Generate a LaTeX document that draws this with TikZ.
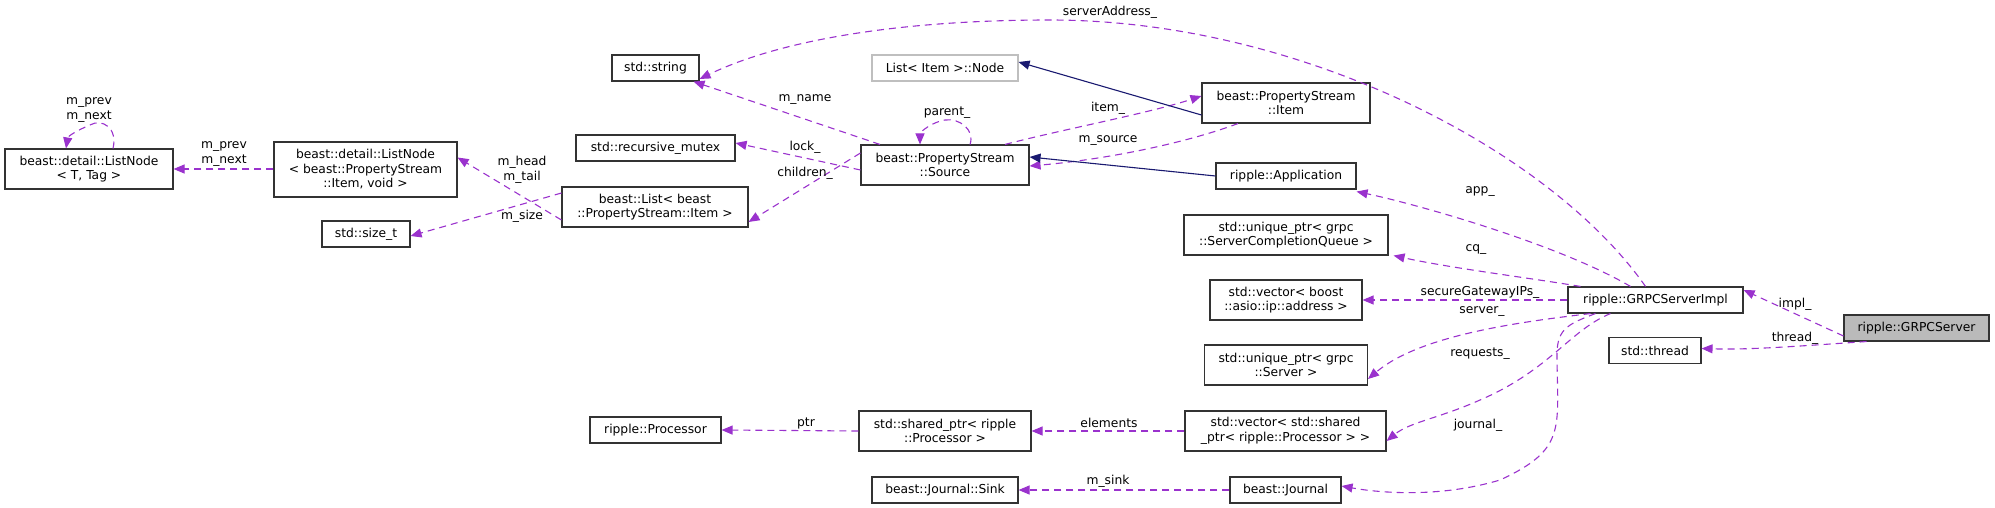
\documentclass[tikz,border=0pt]{standalone}
\usepackage{fontspec}
\setmainfont{DejaVu Sans}
\usetikzlibrary{arrows.meta}
\begin{document}
\begin{tikzpicture}[x=1pt,y=-1pt,
  font=\fontsize{12.3}{14.5}\selectfont,
  box/.style={draw=black!80,line width=1.1pt,inner sep=0pt,align=center,fill=white},
  mem/.style={draw={rgb,255:red,154;green,50;blue,205},line width=1.1pt,dash pattern=on 7pt off 5pt,
     -{Triangle[length=11pt,width=9pt]}},
  inh/.style={draw={rgb,255:red,25;green,25;blue,112},line width=1.1pt,-{Triangle[length=11pt,width=9pt]}},
  lbl/.style={inner sep=0pt,align=center}]
\useasboundingbox (0,0) rectangle (1995,508);
\newcommand{\bx}[6]{\node[box,#6,minimum width=#4pt,minimum height=#5pt] (#1) at (#2,#3) {};}
% nodes
\node[box,minimum width=168pt,minimum height=40pt] (lnt) at (89,169) {beast::detail::ListNode\\< T, Tag >};
\node[box,minimum width=183pt,minimum height=55pt] (lni) at (365.5,169.5) {beast::detail::ListNode\\< beast::PropertyStream\\::Item, void >};
\node[box,minimum width=88pt,minimum height=26pt] (sizet) at (366,234) {std::size\_t};
\node[box,minimum width=87pt,minimum height=26pt] (str) at (655.5,68) {std::string};
\node[box,minimum width=159pt,minimum height=26pt] (rmx) at (655.5,148) {std::recursive\_mutex};
\node[box,minimum width=186pt,minimum height=40pt] (lst) at (655,207) {beast::List< beast\\::PropertyStream::Item >};
\node[box,minimum width=168pt,minimum height=40pt] (src) at (945,165) {beast::PropertyStream\\::Source};
\node[box,draw=black!25,minimum width=146pt,minimum height=26pt] (lnode) at (945,68) {List< Item >::Node};
\node[box,minimum width=168pt,minimum height=40pt] (item) at (1286,103) {beast::PropertyStream\\::Item};
\node[box,minimum width=140pt,minimum height=26pt] (app) at (1286,176) {ripple::Application};
\node[box,minimum width=204pt,minimum height=40pt] (ucq) at (1286,235) {std::unique\_ptr< grpc\\::ServerCompletionQueue >};
\node[box,minimum width=152pt,minimum height=40pt] (vaddr) at (1286,300) {std::vector< boost\\::asio::ip::address >};
\node[box,minimum width=163pt,minimum height=40pt] (usrv) at (1286,365) {std::unique\_ptr< grpc\\::Server >};
\node[box,minimum width=201pt,minimum height=40pt] (vreq) at (1285.5,431) {std::vector< std::shared\\\_ptr< ripple::Processor > >};
\node[box,minimum width=111pt,minimum height=26pt] (jrn) at (1285.5,490) {beast::Journal};
\node[box,minimum width=172pt,minimum height=40pt] (sptr) at (945,431) {std::shared\_ptr< ripple\\::Processor >};
\node[box,minimum width=131pt,minimum height=26pt] (proc) at (655.5,430) {ripple::Processor};
\node[box,minimum width=146pt,minimum height=26pt] (sink) at (945,490) {beast::Journal::Sink};
\node[box,minimum width=175pt,minimum height=26pt] (impl) at (1655.5,300) {ripple::GRPCServerImpl};
\node[box,minimum width=92pt,minimum height=26pt] (thr) at (1655,350.5) {std::thread};
\node[box,fill=black!27,minimum width=145pt,minimum height=26pt] (srv) at (1916.5,328) {ripple::GRPCServer};
% edges
\draw[mem] ([xshift=24pt]lnt.north) .. controls (118,128) and (102,118) .. (90,125) .. controls (78,130) and (68,136) .. ([xshift=-23pt]lnt.north);
\node[lbl] (l1) at (89,110) {m\_prev\\m\_next};
\draw[mem] (lni.west|-lnt.east) -- (lnt.east);
\node[lbl] (l2) at (224,154) {m\_prev\\m\_next};
\draw[mem] ([yshift=-13pt]lst.west) -- ([yshift=12pt]lni.east);
\node[lbl] (l3) at (522,170) {m\_head\\m\_tail};
\draw[mem] ([yshift=14pt]lst.west) -- ([yshift=-2pt]sizet.east);
\node[lbl] (l4) at (522,216) {m\_size};
\draw[mem] ([yshift=-5pt]src.west) -- ([yshift=5pt]rmx.east);
\node[lbl] (l5) at (805,147) {lock\_};
\draw[mem] ([yshift=12pt]src.west) -- ([yshift=-15pt]lst.east);
\node[lbl] (l6) at (805,173) {children\_};
\draw[mem] ([xshift=-65pt]src.north) -- ([xshift=38pt]str.south);
\node[lbl] (l7) at (805,100) {m\_name};
\draw[mem] ([xshift=25pt]src.north) .. controls (975,130) and (960,118) .. (945,120) .. controls (932,122) and (920,132) .. ([xshift=-25pt]src.north);
\node[lbl] (l8) at (947,113) {parent\_};
\draw[mem] ([xshift=60pt]src.north) .. controls (1060,130) and (1150,113) .. ([yshift=7pt]item.west);
\node[lbl] (l9) at (1108,108) {item\_};
\draw[mem] ([xshift=-48pt]item.south) .. controls (1180,145) and (1100,160) .. ([yshift=-1pt]src.east);
\node[lbl] (l10) at (1108,141) {m\_source};
\draw[inh] ([yshift=-12pt]item.west) -- ([yshift=6pt]lnode.east);
\draw[inh] (app.west) -- ([yshift=8pt]src.east);
\draw[mem] ([xshift=-25pt]impl.north) .. controls (1560,245) and (1420,205) .. ([yshift=-2pt]app.south east);
\node[lbl] (l11) at (1480,192) {app\_};
\draw[mem] ([xshift=-75pt]impl.north) .. controls (1530,278) and (1450,268) .. ([xshift=5pt]ucq.south east);
\node[lbl] (l12) at (1476,250) {cq\_};
\draw[mem] (impl.west) -- (vaddr.east);
\node[lbl] (l13) at (1480,292) {secureGatewayIPs\_};
\draw[mem] ([xshift=-65pt]impl.south) .. controls (1520,322) and (1420,335) .. ([yshift=-14pt]usrv.east);
\node[lbl] (l14) at (1482,312) {server\_};
\draw[mem] ([xshift=-45pt]impl.south) .. controls (1570,330) and (1550,370) .. (1480,400) .. controls (1440,418) and (1410,422) .. ([yshift=-10pt]vreq.east);
\node[lbl] (l15) at (1480,354) {requests\_};
\draw[mem] ([xshift=-60pt]impl.south) .. controls (1565,325) and (1556,330) .. (1557,360) .. controls (1558,430) and (1565,450) .. (1500,480) .. controls (1440,498) and (1380,493) .. ([yshift=4pt]jrn.east);
\node[lbl] (l16) at (1478,425) {journal\_};
\draw[mem] ([xshift=-10pt]impl.north) .. controls (1550,150) and (1300,20) .. (1050,20) .. controls (900,20) and (780,40) .. ([yshift=-11pt]str.east);
\node[lbl] (l17) at (1110,12) {serverAddress\_};
\draw[mem] ([yshift=-8pt]srv.west) -- ([yshift=10pt]impl.east);
\node[lbl] (l18) at (1795,304) {impl\_};
\draw[mem] ([xshift=-50pt]srv.south) .. controls (1800,346) and (1750,350) .. ([yshift=2pt]thr.east);
\node[lbl] (l19) at (1795,338) {thread\_};
\draw[mem] (sptr.west) -- (proc.east);
\node[lbl] (l20) at (806,423) {ptr};
\draw[mem] (vreq.west) -- (sptr.east);
\node[lbl] (l21) at (1109,423) {elements};
\draw[mem] (jrn.west) -- (sink.east);
\node[lbl] (l22) at (1108,481) {m\_sink};
\end{tikzpicture}
\end{document}
